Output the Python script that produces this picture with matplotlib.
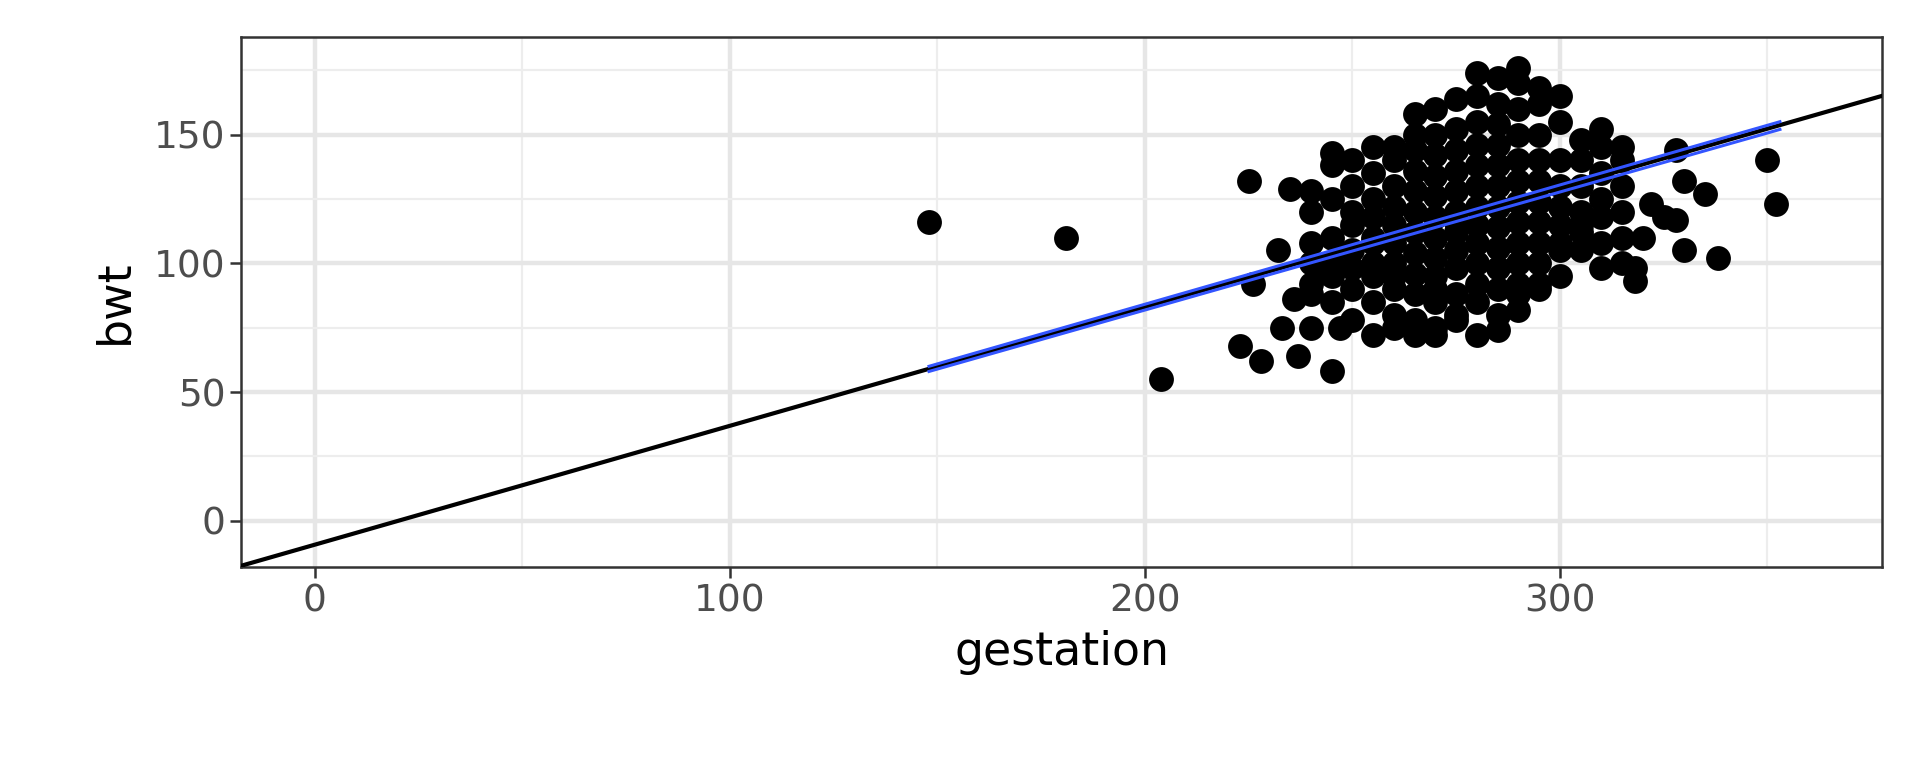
import matplotlib
matplotlib.use("Agg")
import matplotlib.pyplot as plt

# cloud columns: gestation -> list of bwt
cloud = {
    240: [100, 92, 88, 120, 128, 108],
    245: [95, 110, 138, 85, 100, 125, 143],
    250: [90, 105, 115, 130, 140, 78, 98, 120],
    255: [85, 95, 100, 110, 118, 125, 135, 145, 72, 108],
    260: [80, 90, 100, 108, 115, 122, 130, 140, 145, 95, 75],
    265: [78, 88, 96, 104, 112, 120, 128, 136, 144, 150, 158, 72],
    270: [75, 85, 95, 102, 110, 118, 126, 134, 142, 150, 160, 72, 90],
    275: [78, 88, 98, 105, 112, 120, 128, 136, 144, 152, 164, 80, 116],
    280: [72, 85, 92, 100, 108, 115, 122, 130, 138, 146, 155, 165, 174],
    285: [80, 90, 98, 106, 114, 122, 130, 138, 146, 154, 162, 172, 74],
    290: [82, 92, 100, 108, 116, 124, 132, 140, 150, 160, 170, 176, 88],
    295: [90, 100, 108, 116, 124, 132, 140, 150, 162, 168, 92],
    300: [95, 105, 115, 122, 130, 140, 155, 165, 108],
    305: [105, 112, 120, 130, 140, 148, 115],
    310: [108, 118, 125, 135, 145, 152, 98],
    315: [110, 120, 130, 140, 145, 100],
}
out_x = [148, 181, 204, 223, 225, 228, 235, 245, 247, 350, 352, 338, 335, 330, 330,
         328, 328, 318, 318, 320, 232, 240, 237, 233, 226, 236, 242, 322, 325]
out_y = [116, 110, 55, 68, 132, 62, 129, 58, 75, 140, 123, 102, 127, 105, 132,
         144, 117, 93, 98, 110, 105, 75, 64, 75, 92, 86, 97, 123, 118]

gest = out_x + [x for x, ys in cloud.items() for _ in ys]
bwt = out_y + [y for ys in cloud.values() for y in ys]

ab_int, ab_slope = -9.3, 0.4617
fit1 = ([148, 353], [60, 155])
fit2 = ([148, 353], [58, 152])

W, H = 1568, 627
fig = plt.figure(figsize=(19.2, 7.68), dpi=100)
ax = fig.add_axes([197/W, 1-463/H, 1340/W, 433/H])
ax.set_xlim(-17.7, 377.6)
ax.set_ylim(-18, 188)
ax.set_xticks([0, 100, 200, 300])
ax.set_yticks([0, 50, 100, 150])
ax.set_xticks([50, 150, 250, 350], minor=True)
ax.set_yticks([25, 75, 125, 175], minor=True)
ax.grid(True, which='major', color='#e6e6e6', lw=3.2)
ax.grid(True, which='minor', color='#ededed', lw=1.6)
ax.set_axisbelow(True)
ax.tick_params(which='minor', length=0)
ax.tick_params(which='major', length=8, width=1.8, color='#333333',
               labelsize=27, labelcolor='#4d4d4d')
for s in ax.spines.values():
    s.set_color('#333333'); s.set_linewidth(1.8)

ax.scatter(gest, bwt, s=320, color='black', zorder=3, linewidths=0)
xs = [-17.7, 377.6]
ax.plot(xs, [ab_int + ab_slope*x for x in xs], color='black', lw=3, zorder=4)
ax.plot(*fit1, color='#3355ff', lw=2.2, zorder=5)
ax.plot(*fit2, color='#3355ff', lw=2.2, zorder=5)

ax.set_xlabel('gestation', fontsize=33, labelpad=8)
ax.set_ylabel('bwt', fontsize=33, labelpad=12)
fig.savefig('out.png')
